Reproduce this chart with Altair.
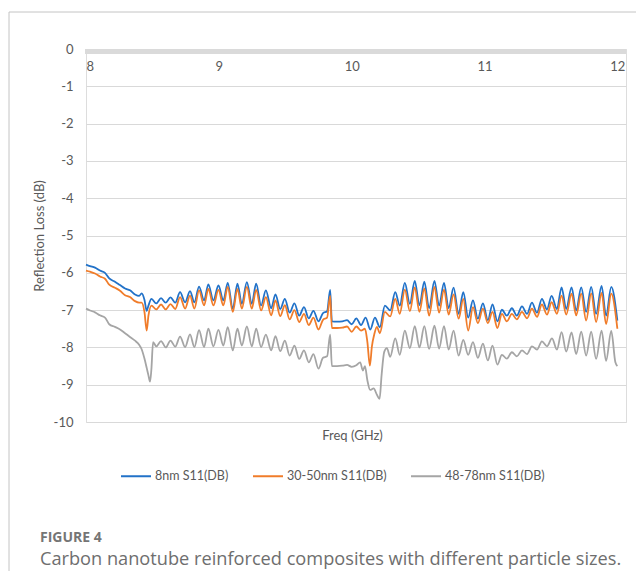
import altair as alt
import pandas as pd

# ---------------- data ----------------
SERIES = ["8nm S11(DB)", "30-50nm S11(DB)", "48-78nm S11(DB)"]
COLORS = ["#2272C8", "#F07C2A", "#A5A5A5"]
X_TICKS = [8, 9, 10, 11, 12]
Y_TICKS = [-10, -9, -8, -7, -6, -5, -4, -3, -2, -1, 0]

FREQ_8NM = [8.000, 8.030, 8.068, 8.105, 8.143, 8.175, 8.218, 8.256, 8.294, 8.331, 8.369, 8.400,
            8.419, 8.440, 8.457, 8.470, 8.493, 8.529, 8.565, 8.600, 8.636, 8.672, 8.708, 8.746,
            8.783, 8.816, 8.851, 8.889, 8.921, 8.959, 8.997, 9.034, 9.067, 9.105, 9.140, 9.173,
            9.211, 9.248, 9.281, 9.318, 9.354, 9.394, 9.426, 9.462, 9.497, 9.533, 9.569, 9.605,
            9.641, 9.677, 9.712, 9.750, 9.784, 9.815, 9.838, 9.851, 9.890, 9.930, 9.965, 10.000,
            10.035, 10.070, 10.105, 10.140, 10.175, 10.212, 10.250, 10.290, 10.328, 10.362, 10.400,
            10.438, 10.475, 10.510, 10.547, 10.583, 10.623, 10.658, 10.695, 10.730, 10.767, 10.805,
            10.840, 10.877, 10.913, 10.950, 10.988, 11.025, 11.060, 11.097, 11.131, 11.168, 11.206,
            11.243, 11.282, 11.320, 11.357, 11.395, 11.432, 11.470, 11.505, 11.545, 11.580, 11.615,
            11.655, 11.690, 11.728, 11.765, 11.803, 11.840, 11.881, 11.915, 11.954, 12.000]
S11_8NM = [-5.78, -5.82, -5.86, -5.94, -6.00, -6.15, -6.24, -6.33, -6.42, -6.47, -6.58, -6.62,
           -6.55, -6.72, -7.02, -6.88, -6.70, -6.82, -6.68, -6.80, -6.66, -6.80, -6.52, -6.79,
           -6.49, -6.79, -6.37, -6.74, -6.31, -6.74, -6.34, -6.74, -6.27, -6.96, -6.29, -6.83,
           -6.25, -6.83, -6.29, -6.875, -6.47, -6.95, -6.58, -6.97, -6.70, -7.07, -6.82, -7.15,
           -6.92, -7.22, -7.02, -7.30, -7.08, -7.03, -6.46, -7.30, -7.31, -7.30, -7.27, -7.38,
           -7.22, -7.40, -7.20, -7.52, -7.20, -7.46, -6.88, -7.01, -6.52, -6.88, -6.27,
           -6.83, -6.22, -6.87, -6.24, -6.95, -6.22, -6.88, -6.27, -6.95, -6.40, -7.10,
           -6.52, -7.20, -6.74, -7.23, -6.82, -7.27, -6.85, -7.30, -6.99, -7.15, -6.95,
           -7.15, -6.90, -7.10, -6.80, -7.07, -6.70, -6.98, -6.62, -6.97, -6.39, -6.97,
           -6.39, -7.01, -6.39, -7.05, -6.38, -7.10, -6.35, -7.15, -6.38, -7.28]

FREQ_30_50NM = [8.000, 8.030, 8.068, 8.105, 8.143, 8.175, 8.218, 8.256, 8.294, 8.331, 8.369, 8.400,
                8.419, 8.440, 8.457, 8.470, 8.493, 8.529, 8.565, 8.600, 8.636, 8.672, 8.708, 8.746,
                8.783, 8.816, 8.851, 8.889, 8.921, 8.959, 8.997, 9.034, 9.067, 9.105, 9.140, 9.173,
                9.211, 9.248, 9.281, 9.318, 9.354, 9.394, 9.426, 9.462, 9.497, 9.533, 9.569, 9.605,
                9.641, 9.677, 9.712, 9.750, 9.784, 9.815, 9.838, 9.851, 9.890, 9.930, 9.965, 10.000,
                10.035, 10.070, 10.100, 10.118, 10.137, 10.152, 10.170, 10.190, 10.212, 10.250,
                10.290, 10.328, 10.362, 10.400, 10.438, 10.475, 10.510, 10.547, 10.583, 10.623,
                10.658, 10.695, 10.730, 10.767, 10.805, 10.840, 10.877, 10.913, 10.950, 10.988,
                11.025, 11.060, 11.097, 11.131, 11.168, 11.206, 11.243, 11.282, 11.320, 11.357,
                11.395, 11.432, 11.470, 11.505, 11.545, 11.580, 11.615, 11.655, 11.690, 11.728,
                11.765, 11.803, 11.840, 11.881, 11.915, 11.954, 12.000]
S11_30_50NM = [-5.94, -5.97, -6.02, -6.10, -6.16, -6.32, -6.40, -6.48, -6.60, -6.65, -6.76, -6.80,
               -6.80, -7.05, -7.55, -7.15, -6.88, -6.98, -6.85, -6.98, -6.84, -6.97, -6.65, -6.96,
               -6.61, -6.96, -6.47, -6.875, -6.43, -6.875, -6.46, -6.875, -6.38, -7.05, -6.43, -6.96,
               -6.38, -6.96, -6.46, -7.01, -6.65, -7.14, -6.74, -7.16, -6.87, -7.25, -7.00, -7.32,
               -7.10, -7.40, -7.20, -7.52, -7.26, -7.20, -6.62, -7.48, -7.48, -7.47, -7.44, -7.58,
               -7.44, -7.55, -7.50, -7.85, -8.49, -7.98, -7.65, -7.45, -7.62, -7.05,
               -7.17, -6.70, -7.10, -6.45, -7.03, -6.39, -7.05, -6.42, -7.15, -6.38,
               -7.07, -6.45, -7.12, -6.58, -7.23, -6.70, -7.55, -6.92, -7.35, -6.96,
               -7.35, -7.05, -7.48, -7.10, -7.30, -7.10, -7.25, -7.05, -7.22, -6.96,
               -7.18, -6.85, -7.12, -6.79, -7.10, -6.61, -7.12, -6.56, -7.14, -6.56,
               -7.28, -6.55, -7.32, -6.54, -7.37, -6.56, -7.50]

FREQ_48_78NM = [8.000, 8.030, 8.068, 8.105, 8.143, 8.175, 8.218, 8.256, 8.294, 8.331, 8.369, 8.400,
                8.419, 8.440, 8.457, 8.470, 8.482, 8.492, 8.505, 8.529, 8.565, 8.600, 8.636, 8.672,
                8.708, 8.746, 8.783, 8.816, 8.851, 8.889, 8.921, 8.959, 8.997, 9.034, 9.067, 9.105,
                9.140, 9.173, 9.211, 9.248, 9.281, 9.318, 9.354, 9.394, 9.426, 9.462, 9.497, 9.533,
                9.569, 9.605, 9.641, 9.677, 9.712, 9.750, 9.784, 9.815, 9.838, 9.851, 9.890, 9.930,
                9.965, 10.000, 10.035, 10.064, 10.084, 10.100, 10.118, 10.139, 10.165, 10.190,
                10.210, 10.225, 10.245, 10.265, 10.290, 10.328, 10.362, 10.400, 10.438, 10.475,
                10.510, 10.547, 10.583, 10.623, 10.658, 10.695, 10.730, 10.767, 10.805, 10.840,
                10.877, 10.913, 10.950, 10.988, 11.025, 11.060, 11.097, 11.131, 11.168, 11.206,
                11.243, 11.282, 11.320, 11.357, 11.395, 11.432, 11.470, 11.508, 11.545, 11.580,
                11.615, 11.655, 11.690, 11.728, 11.765, 11.803, 11.840, 11.881, 11.915, 11.954,
                11.985, 12.000]
S11_48_78NM = [-6.96, -7.01, -7.06, -7.14, -7.20, -7.38, -7.45, -7.52, -7.62, -7.72, -7.82, -7.93,
               -8.05, -8.30, -8.55, -8.75, -8.92, -8.60, -7.86, -7.97, -7.83, -8.00, -7.82, -7.98,
               -7.71, -7.99, -7.65, -7.99, -7.54, -7.99, -7.50, -7.97, -7.53, -7.95, -7.46, -8.08,
               -7.50, -7.95, -7.44, -7.97, -7.50, -7.99, -7.66, -8.08, -7.70, -8.10, -7.82, -8.22,
               -7.95, -8.31, -8.08, -8.40, -8.18, -8.57, -8.28, -8.24, -7.66, -8.50, -8.50, -8.49,
               -8.47, -8.52, -8.48, -8.40, -8.62, -8.50, -8.88, -9.14, -9.10, -9.27,
               -9.38, -8.75, -8.12, -8.02, -8.25, -7.76, -8.20, -7.55, -8.02, -7.43,
               -8.00, -7.43, -8.04, -7.42, -8.03, -7.43, -8.06, -7.55, -8.22, -7.80,
               -8.20, -7.86, -8.28, -7.90, -8.35, -7.95, -8.46, -8.20, -8.30, -8.13,
               -8.24, -8.08, -8.18, -7.97, -8.06, -7.84, -7.97, -7.76, -8.06, -7.59,
               -8.11, -7.60, -8.18, -7.58, -8.22, -7.58, -8.31, -7.55, -8.36, -7.56,
               -8.40, -8.50]

rows = []
for name, fs, vs in zip(SERIES,
                        [FREQ_8NM, FREQ_30_50NM, FREQ_48_78NM],
                        [S11_8NM, S11_30_50NM, S11_48_78NM]):
    for i, (f, v) in enumerate(zip(fs, vs)):
        rows.append({"series": name, "freq": f, "s11": v, "idx": i})
df = pd.DataFrame(rows)

# ---------------- layout / style ----------------
W, H = 540, 373
FONT = "Lato"
TXT = "#595959"
BOTTOM_PAD = 153

x_scale = alt.Scale(domain=[8, 12.065], nice=False, zero=False)
y_scale = alt.Scale(domain=[-10, 0], nice=False, zero=False)

lines = alt.Chart(df).mark_line(strokeWidth=1.8, interpolate="monotone").encode(
    x=alt.X("freq:Q", scale=x_scale,
            axis=alt.Axis(orient="top", values=X_TICKS, labelExpr="toString(datum.value)",
                          domain=False, ticks=False, tickSize=0, grid=False,
                          labelPadding=-17, labelBaseline="middle",
                          labelFont=FONT, labelFontSize=13, labelColor=TXT,
                          title="Freq (GHz)", titleX=266, titleY=386,
                          titleBaseline="middle", titleFont=FONT, titleFontSize=13,
                          titleFontWeight="normal", titleColor=TXT)),
    y=alt.Y("s11:Q", scale=y_scale,
            axis=alt.Axis(values=Y_TICKS, labelExpr="toString(datum.value)",
                          domain=False, ticks=False, tickSize=0,
                          grid=True, gridColor="#d9d9d9", gridWidth=1,
                          labelPadding=13, labelFont=FONT, labelFontSize=13, labelColor=TXT,
                          title="Reflection Loss (dB)", titlePadding=7, titleFont=FONT,
                          titleFontSize=13, titleFontWeight="normal", titleColor=TXT)),
    color=alt.Color("series:N", scale=alt.Scale(domain=SERIES, range=COLORS),
                    legend=alt.Legend(orient="none", legendX=34, legendY=411,
                                      direction="horizontal", title=None,
                                      symbolType="stroke", symbolSize=900,
                                      symbolStrokeWidth=2, labelFont=FONT,
                                      labelFontSize=12.5, labelColor=TXT,
                                      labelOffset=3, columnPadding=20, padding=0)),
    order=alt.Order("idx:Q"),
)

one = pd.DataFrame({"k": [0]})

band = alt.Chart(one).mark_rect(color="#dadada").encode(
    x=alt.value(-1), x2=alt.value(W), y=alt.value(0), y2=alt.value(5))

frame_left = alt.Chart(one).mark_rule(color="#c4c4c4", strokeWidth=1).encode(
    x=alt.value(-77), y=alt.value(-37), y2=alt.value(H + BOTTOM_PAD))
frame_top = alt.Chart(one).mark_rule(color="#c4c4c4", strokeWidth=1).encode(
    x=alt.value(-77), x2=alt.value(W + 10), y=alt.value(-37))

fig_label = alt.Chart(pd.DataFrame({"t": ["FIGURE 4"]})).mark_text(
    align="left", baseline="middle", font="Open Sans", fontSize=14, fontWeight="bold",
    color="#757575").encode(text="t:N", x=alt.value(-46), y=alt.value(489))
caption = alt.Chart(pd.DataFrame({"t": ["Carbon nanotube reinforced composites with different particle sizes."]})).mark_text(
    align="left", baseline="middle", font="Open Sans", fontSize=18.2,
    color="#6e6e6e").encode(text="t:N", x=alt.value(-46), y=alt.value(511))

chart = alt.layer(band, lines, frame_left, frame_top, fig_label, caption).properties(
    width=W, height=H,
    autosize=alt.AutoSizeParams(type="none"),
    padding={"left": 78, "top": 41, "right": 10, "bottom": BOTTOM_PAD},
).configure_view(stroke=None).configure(background="white")

chart.save("out.html", embed_options={"renderer": "svg", "actions": False})
